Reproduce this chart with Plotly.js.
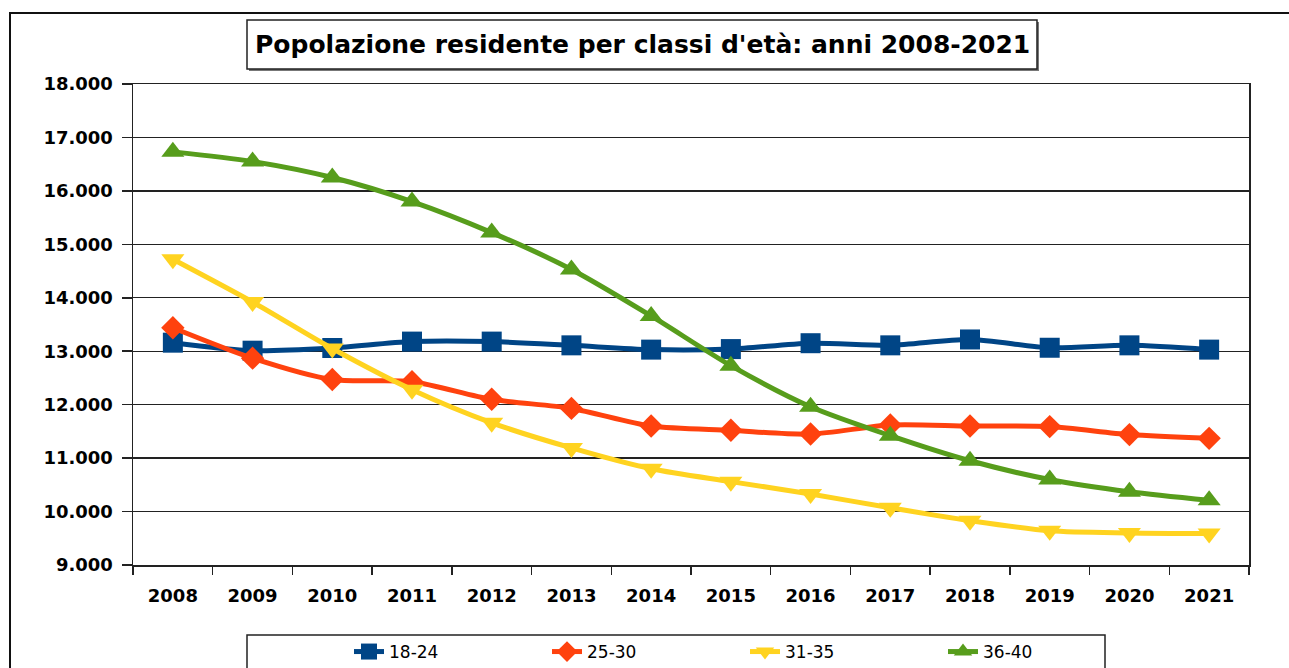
<!DOCTYPE html>
<html>
<head>
<meta charset="utf-8">
<script src="https://cdn.plot.ly/plotly-3.0.1.min.js"></script>
<style>
  html, body { margin: 0; padding: 0; background: #fff; }
  #wrap { position: relative; width: 1289px; height: 668px; overflow: hidden; }
  #chart { width: 1289px; height: 668px; }
  #frame { position: absolute; left: 9px; top: 12px; width: 1300px; height: 700px;
           border-left: 2px solid #111; border-top: 2px solid #111; pointer-events: none; }
</style>
</head>
<body>
<div id="wrap">
  <div id="chart"></div>
  <div id="frame"></div>
</div>
<script>
const years = ["2008","2009","2010","2011","2012","2013","2014","2015","2016","2017","2018","2019","2020","2021"];
const seriesNames = ["18-24","25-30","31-35","36-40"];
const age18_24 = [13160,13010,13060,13180,13180,13110,13030,13040,13150,13110,13220,13065,13110,13030];
const age25_30 = [13440,12870,12470,12430,12100,11930,11600,11520,11450,11620,11600,11590,11440,11370];
const age31_35 = [14720,13920,13050,12280,11660,11190,10800,10560,10330,10070,9830,9640,9600,9590];
const age36_40 = [16730,16550,16250,15800,15220,14530,13660,12730,11960,11420,10950,10600,10370,10210];
const seriesColors = ["#004586","#ff420e","#ffd320","#579d1c"];
const seriesSymbols = ["square","diamond","triangle-down","triangle-up"];
const markerSizes = [20,18,20,20];
const allValues = [age18_24, age25_30, age31_35, age36_40];

const traces = allValues.map((vals, i) => ({
  type: "scatter",
  mode: "lines+markers",
  name: seriesNames[i],
  x: years,
  y: vals,
  line: { color: seriesColors[i], width: 5, shape: "spline", smoothing: 0.8 },
  marker: { color: seriesColors[i], symbol: seriesSymbols[i], size: markerSizes[i], line: { width: 0 } },
  cliponaxis: false
}));

const W = 1289, H = 668;
const L = 133, R = 1249, T = 84, B = 565;
const px = (x) => (x - L) / (R - L);
const py = (y) => (B - y) / (B - T);

const layout = {
  width: W, height: H,
  margin: { l: L, r: W - R, t: T, b: H - B, pad: 0, autoexpand: false },
  paper_bgcolor: "#fff",
  plot_bgcolor: "#fff",
  separators: ",.",
  font: { family: "DejaVu Sans, sans-serif", color: "#000" },
  showlegend: true,
  legend: {
    orientation: "h",
    x: px(349), xanchor: "left",
    y: py(652), yanchor: "middle",
    entrywidth: 153,
    entrywidthmode: "pixels",
    borderwidth: 0,
    bgcolor: "rgba(0,0,0,0)",
    font: { family: "DejaVu Sans, sans-serif", size: 17, color: "#000" },
    traceorder: "normal"
  },
  xaxis: {
    type: "category",
    range: [-0.5, 13.5],
    tickson: "boundaries",
    ticks: "outside",
    ticklen: 8,
    tickwidth: 1.5,
    tickcolor: "#222",
    showline: true,
    linecolor: "#222",
    linewidth: 1.5,
    mirror: true,
    showgrid: false,
    zeroline: false,
    ticklabelstandoff: 14,
    tickfont: { family: "DejaVu Sans, sans-serif", size: 18, color: "#000", weight: "bold" },
    fixedrange: true
  },
  yaxis: {
    range: [9000, 18000],
    dtick: 1000,
    tick0: 9000,
    tickformat: ",d",
    ticks: "outside",
    ticklen: 10,
    tickwidth: 1.5,
    tickcolor: "#222",
    showline: true,
    linecolor: "#222",
    linewidth: 1.5,
    mirror: true,
    showgrid: true,
    gridcolor: "#222",
    gridwidth: 1.3,
    zeroline: false,
    ticklabelstandoff: 5,
    tickfont: { family: "DejaVu Sans, sans-serif", size: 18, color: "#000", weight: "bold" },
    fixedrange: true
  },
  shapes: [
    { type: "rect", xref: "paper", yref: "paper", x0: px(249), x1: px(1039), y0: py(22), y1: py(71),
      line: { width: 0 }, fillcolor: "#777", layer: "below" },
    { type: "rect", xref: "paper", yref: "paper", x0: px(247), x1: px(1037), y0: py(20), y1: py(69),
      line: { color: "#222", width: 1.5 }, fillcolor: "#fff", layer: "below" },
    { type: "rect", xref: "paper", yref: "paper", x0: px(247), x1: px(1105), y0: py(635), y1: py(690),
      line: { color: "#222", width: 1.5 }, fillcolor: "rgba(0,0,0,0)" }
  ],
  annotations: [
    { text: "Popolazione residente per classi d'età: anni 2008-2021",
      xref: "paper", yref: "paper", x: px(642), y: py(45), xanchor: "center", yanchor: "middle",
      showarrow: false,
      font: { family: "DejaVu Sans, sans-serif", size: 25, color: "#000", weight: "bold" } }
  ]
};

Plotly.newPlot("chart", traces, layout, { staticPlot: true, displayModeBar: false });
</script>
</body>
</html>
